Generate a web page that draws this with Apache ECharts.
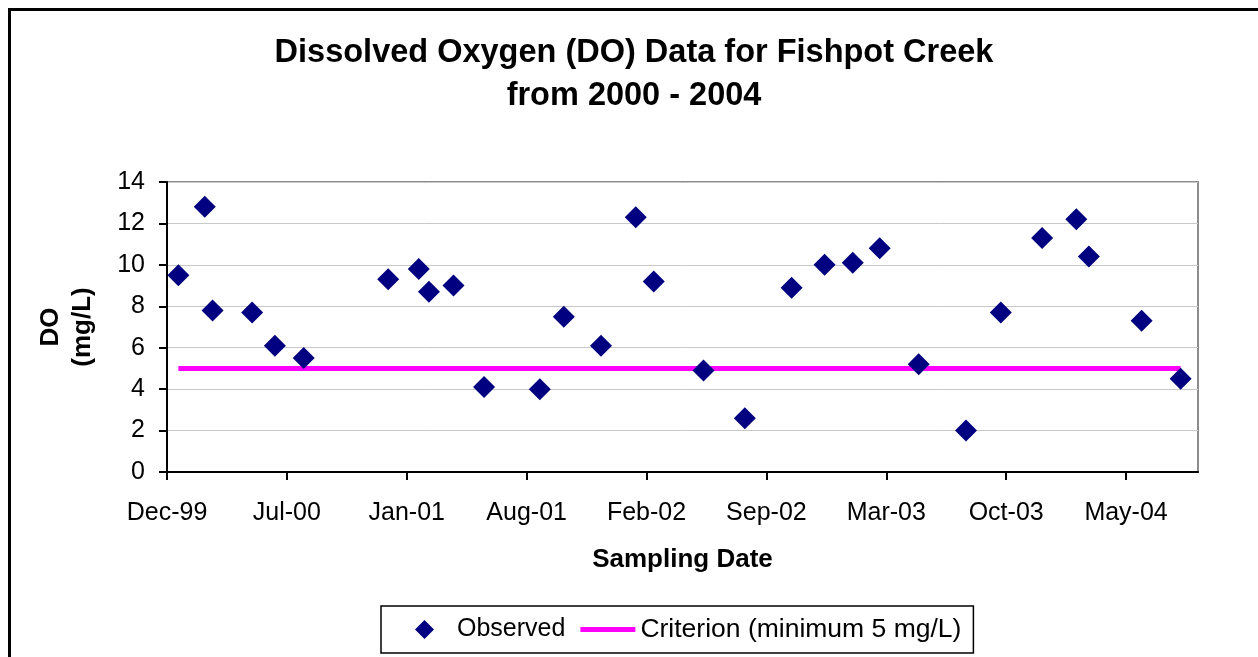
<!DOCTYPE html>
<html>
<head>
<meta charset="utf-8">
<script src="https://cdn.jsdelivr.net/npm/echarts@6/dist/echarts.min.js"></script>
<style>
html,body{margin:0;padding:0;background:#fff;}
#chart{width:1258px;height:657px;}
</style>
</head>
<body>
<div id="chart"></div>
<script>
// ---- data ----
const sampleDates = ['2000-01-03','2000-02-16','2000-02-29','2000-05-05','2000-06-12','2000-07-30',
  '2000-12-18','2001-02-07','2001-02-24','2001-04-06','2001-05-27','2001-08-28','2001-10-07',
  '2001-12-08','2002-02-04','2002-03-06','2002-05-28','2002-08-05','2002-10-22','2002-12-16',
  '2003-02-01','2003-03-18','2003-05-22','2003-08-09','2003-10-06','2003-12-14','2004-02-09',
  '2004-03-01','2004-05-28','2004-08-01'];
const doValues = [9.5,12.8,7.8,7.7,6.1,5.5,9.3,9.8,8.7,9.0,4.1,4.0,7.5,6.1,12.3,9.2,4.9,2.6,8.9,10.0,
  10.1,10.8,5.2,2.0,7.7,11.3,12.2,10.4,7.3,4.5];
const criterionDates = ['2000-01-03','2004-08-01'];
const criterionValues = [5,5];
const axisStartDate = '1999-12-15';
const axisEndDays = 1720;
const tickIntervalDays = 200;
const yTicks = [0,2,4,6,8,10,12,14];
const monthNames = ['Jan','Feb','Mar','Apr','May','Jun','Jul','Aug','Sep','Oct','Nov','Dec'];

const DAY = 86400000;
const startMs = Date.parse(axisStartDate + 'T00:00:00Z');
function toDays(d){ return Math.round((Date.parse(d + 'T00:00:00Z') - startMs) / DAY); }
function fmt(v){
  const dt = new Date(startMs + v * DAY);
  return monthNames[dt.getUTCMonth()] + '-' + String(dt.getUTCFullYear() % 100).padStart(2,'0');
}
const tickVals = [];
for (let v = 0; v <= axisEndDays; v += tickIntervalDays) tickVals.push(v);

const obsData = sampleDates.map((d,i) => [toDays(d), doValues[i]]);
const critData = criterionDates.map((d,i) => [toDays(d), criterionValues[i]]);

const FONT = '"Liberation Sans", Arial, sans-serif';
const chart = echarts.init(document.getElementById('chart'));
chart.setOption({
  backgroundColor: '#ffffff',
  animation: false,
  title: [
    {text: 'Dissolved Oxygen (DO) Data for Fishpot Creek', left: 629, top: 32, textAlign: 'center',
     textStyle: {fontFamily: FONT, fontSize: 32.5, fontWeight: 'bold', color: '#000'}},
    {text: 'from 2000 - 2004', left: 629, top: 75, textAlign: 'center',
     textStyle: {fontFamily: FONT, fontSize: 32.5, fontWeight: 'bold', color: '#000'}}
  ],
  graphic: [{
    type: 'rect', silent: true, z: 100,
    shape: {x: 9.5, y: 9.5, width: 1300, height: 700},
    style: {fill: 'none', stroke: '#000', lineWidth: 3}
  }],
  grid: {left: 167, right: 60, top: 182, bottom: 185, show: true, borderColor: '#8c8c8c', borderWidth: 2},
  legend: {
    left: 381, top: 606, padding: [10, 12, 10, 34],
    borderColor: '#000', borderWidth: 1.5,
    itemWidth: 55, itemHeight: 19, itemGap: 15,
    textStyle: {fontFamily: FONT, fontSize: 25, color: '#000'},
    data: [
      {name: 'Observed', icon: 'path://M0,-1L1,0L0,1L-1,0Z'},
      {name: 'Criterion (minimum 5 mg/L)', icon: 'path://M0,0L55,0L55,5L0,5Z',
       textStyle: {fontFamily: FONT, fontSize: 26.5, color: '#000'}}
    ]
  },
  xAxis: {
    type: 'value', min: 0, max: axisEndDays,
    name: 'Sampling Date', nameLocation: 'middle', nameGap: 75,
    nameTextStyle: {fontFamily: FONT, fontSize: 26, fontWeight: 'bold', color: '#000'},
    axisLine: {show: true, lineStyle: {color: '#000', width: 2}},
    axisTick: {show: true, length: 8, lineStyle: {color: '#000', width: 2}, customValues: tickVals},
    axisLabel: {customValues: tickVals, formatter: fmt, margin: 29, fontFamily: FONT, fontSize: 25, color: '#000'},
    splitLine: {show: false}
  },
  yAxis: {
    type: 'value', min: yTicks[0], max: yTicks[yTicks.length-1], interval: 2,
    name: 'DO\n(mg/L)', nameLocation: 'middle', nameGap: 68,
    nameTextStyle: {fontFamily: FONT, fontSize: 26, fontWeight: 'bold', color: '#000', lineHeight: 32},
    axisLine: {show: true, lineStyle: {color: '#000', width: 2}},
    axisTick: {show: true, length: 8, lineStyle: {color: '#000', width: 2}},
    axisLabel: {margin: 22, fontFamily: FONT, fontSize: 25, color: '#000'},
    splitLine: {show: true, lineStyle: {color: '#c8c8c8', width: 1}}
  },
  series: [
    {name: 'Observed', type: 'scatter', data: obsData, symbol: 'diamond', symbolSize: 22,
     itemStyle: {color: '#000080', opacity: 1}, z: 3},
    {name: 'Criterion (minimum 5 mg/L)', type: 'line', data: critData, symbol: 'none',
     lineStyle: {color: '#ff00ff', width: 5}, itemStyle: {color: '#ff00ff'}, z: 2}
  ]
});
</script>
</body>
</html>
